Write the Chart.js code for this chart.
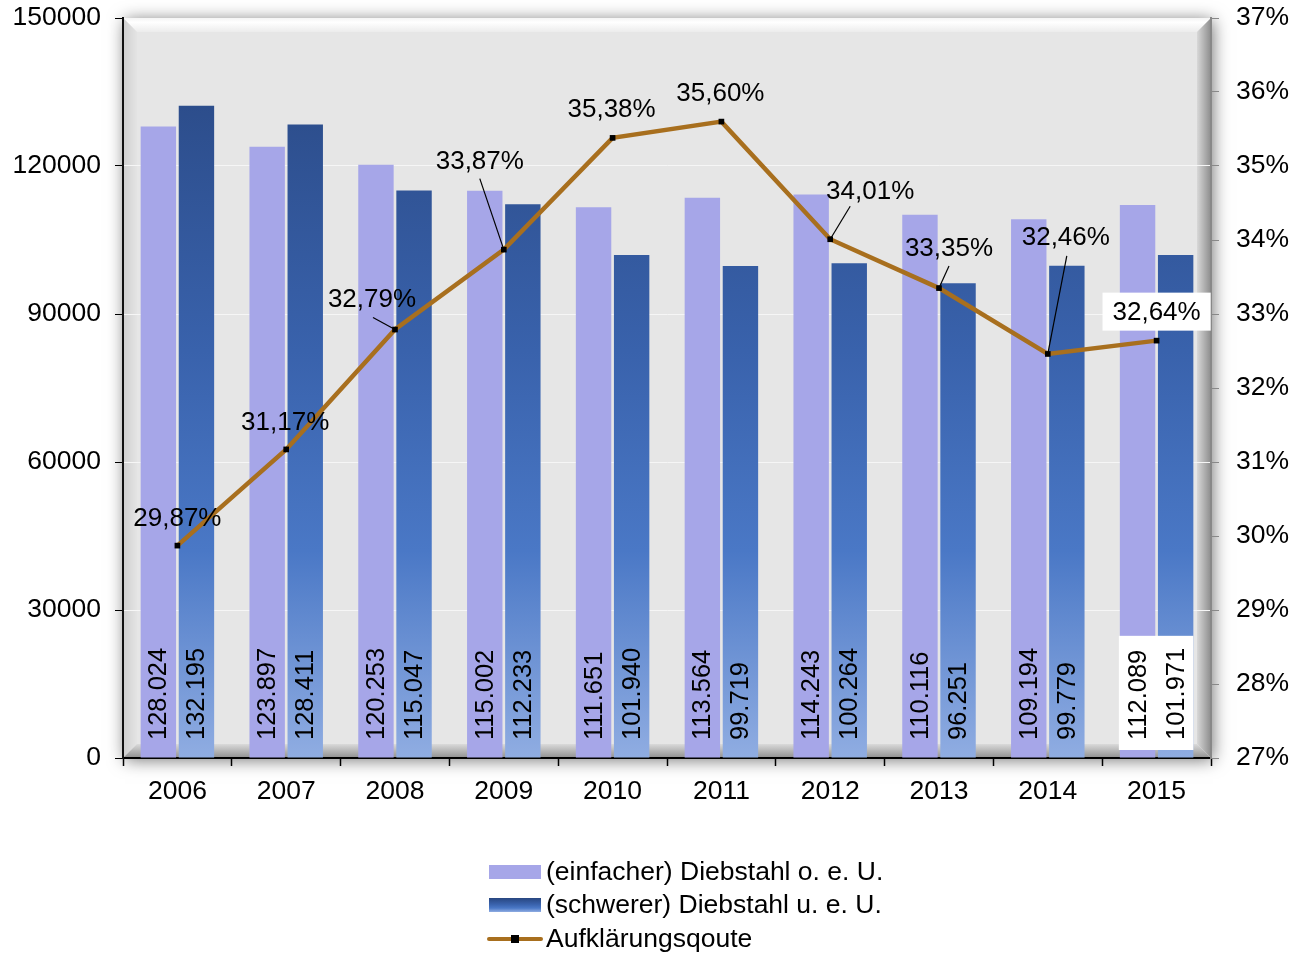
<!DOCTYPE html>
<html>
<head>
<meta charset="utf-8">
<script src="https://cdn.jsdelivr.net/npm/chart.js@4.4.1/dist/chart.umd.min.js"></script>
<style>
  body { margin: 0; background: #fff; }
  #wrap { width: 1304px; height: 954px; }
</style>
</head>
<body>
<div id="wrap"><canvas id="diebstahlChart" width="1304" height="954"></canvas></div>
<script>
var years = ['2006', '2007', '2008', '2009', '2010', '2011', '2012', '2013', '2014', '2015'];
var einfacher = [128024, 123897, 120253, 115002, 111651, 113564, 114243, 110116, 109194, 112089];
var schwerer = [132195, 128411, 115047, 112233, 101940, 99719, 100264, 96251, 99779, 101971];
var quote = [29.87, 31.17, 32.79, 33.87, 35.38, 35.60, 34.01, 33.35, 32.46, 32.64];

var seriesNames = ['(einfacher) Diebstahl o. e. U.', '(schwerer) Diebstahl u. e. U.', 'Aufklärungsqoute'];

// text offsets of the line labels relative to their point, and leader start (null = none)
var labelOffsets = [
    { dx: 0, dy: -28, lead: null },
    { dx: -1, dy: -28, lead: null },
    { dx: -23, dy: -31, lead: [1, 19] },
    { dx: -24, dy: -89, lead: [0, 18] },
    { dx: -1, dy: -29, lead: null },
    { dx: -1, dy: -29, lead: null },
    { dx: 40, dy: -48, lead: [-20, 15] },
    { dx: 10, dy: -40, lead: [0, 18] },
    { dx: 18, dy: -117, lead: [1, 19] },
    { dx: 0, dy: -29, lead: null, box: true }
];

var FONT = '"Liberation Sans", Arial, sans-serif';
var lightBlue = '#a6a6e8';
var lineBrown = '#a86f1e';

Chart.defaults.font.family = FONT;
Chart.defaults.font.size = 26.5;
Chart.defaults.color = '#000';

function blueGradient(ctx, top, bottom) {
    var g = ctx.createLinearGradient(0, top, 0, bottom);
    g.addColorStop(0, '#284680');
    g.addColorStop(0.45, '#3962ac');
    g.addColorStop(0.72, '#4a78c6');
    g.addColorStop(1, '#90ade2');
    return g;
}

function fmtThousand(v) {
    return String(v).replace(/\B(?=(\d{3})+(?!\d))/g, '.');
}

function fmtPct(v) {
    return v.toFixed(2).replace('.', ',') + '%';
}

// plot area with bevelled frame and shadow
var framePlugin = {
    id: 'frame',
    beforeDraw: function (chart) {
        var ctx = chart.ctx, a = chart.chartArea;
        var L = a.left, T = a.top, R = a.right, B = a.bottom, b = 14;
        ctx.save();
        ctx.shadowColor = 'rgba(0,0,0,0.55)';
        ctx.shadowBlur = 16;
        ctx.shadowOffsetX = 2;
        ctx.shadowOffsetY = 2;
        ctx.fillStyle = '#e6e6e6';
        ctx.fillRect(L, T, R - L, B - T);
        ctx.restore();

        ctx.save();
        var g;
        // top
        g = ctx.createLinearGradient(0, T, 0, T + b);
        g.addColorStop(0, '#f4f4f4');
        g.addColorStop(0.3, '#ffffff');
        g.addColorStop(1, '#ececec');
        ctx.fillStyle = g;
        ctx.beginPath();
        ctx.moveTo(L, T); ctx.lineTo(R, T); ctx.lineTo(R - b, T + b); ctx.lineTo(L + b, T + b);
        ctx.closePath(); ctx.fill();
        // left
        g = ctx.createLinearGradient(L, 0, L + b, 0);
        g.addColorStop(0, '#cfcfcf');
        g.addColorStop(1, '#e4e4e4');
        ctx.fillStyle = g;
        ctx.beginPath();
        ctx.moveTo(L, T); ctx.lineTo(L + b, T + b); ctx.lineTo(L + b, B - b); ctx.lineTo(L, B);
        ctx.closePath(); ctx.fill();
        // right
        g = ctx.createLinearGradient(R - b, 0, R, 0);
        g.addColorStop(0, '#d8d8d8');
        g.addColorStop(1, '#8c8c8c');
        ctx.fillStyle = g;
        ctx.beginPath();
        ctx.moveTo(R, T); ctx.lineTo(R, B); ctx.lineTo(R - b, B - b); ctx.lineTo(R - b, T + b);
        ctx.closePath(); ctx.fill();
        // bottom
        g = ctx.createLinearGradient(0, B - b, 0, B);
        g.addColorStop(0, '#dadada');
        g.addColorStop(1, '#909090');
        ctx.fillStyle = g;
        ctx.beginPath();
        ctx.moveTo(L, B); ctx.lineTo(R, B); ctx.lineTo(R - b, B - b); ctx.lineTo(L + b, B - b);
        ctx.closePath(); ctx.fill();
        ctx.restore();
    }
};

// rotated value labels in the bars + percentage labels on the line
var labelPlugin = {
    id: 'labels',
    afterDatasetsDraw: function (chart) {
        var ctx = chart.ctx;
        var m0 = chart.getDatasetMeta(0), m1 = chart.getDatasetMeta(1), m2 = chart.getDatasetMeta(2);
        var baseY = chart.chartArea.bottom - 18;
        ctx.save();
        ctx.font = '25.5px ' + FONT;
        for (var i = 0; i < years.length; i++) {
            var t0 = fmtThousand(einfacher[i]), t1 = fmtThousand(schwerer[i]);
            if (i === years.length - 1) {
                var w = Math.max(ctx.measureText(t0).width, ctx.measureText(t1).width);
                var b0 = m0.data[i], b1 = m1.data[i];
                var x0 = b0.x - b0.width / 2 - 1, x1 = b1.x + b1.width / 2;
                ctx.fillStyle = '#fff';
                ctx.fillRect(x0, baseY - w - 12, x1 - x0, w + 22);
            }
            ctx.fillStyle = '#000';
            [[m0.data[i].x, t0], [m1.data[i].x, t1]].forEach(function (p) {
                ctx.save();
                ctx.translate(p[0], baseY);
                ctx.rotate(-Math.PI / 2);
                ctx.textAlign = 'left';
                ctx.textBaseline = 'middle';
                ctx.fillText(p[1], 0, 1);
                ctx.restore();
            });
        }

        ctx.font = '26px ' + FONT;
        ctx.textAlign = 'center';
        ctx.textBaseline = 'middle';
        for (var j = 0; j < quote.length; j++) {
            var pt = m2.data[j], o = labelOffsets[j];
            var tx = pt.x + o.dx, ty = pt.y + o.dy;
            var txt = fmtPct(quote[j]);
            if (o.box) {
                var tw = ctx.measureText(txt).width;
                ctx.fillStyle = '#fff';
                ctx.fillRect(tx - tw / 2 - 10, ty - 19, tw + 20, 38);
            }
            if (o.lead) {
                ctx.strokeStyle = '#000';
                ctx.lineWidth = 1.2;
                ctx.beginPath();
                ctx.moveTo(tx + o.lead[0], ty + o.lead[1]);
                ctx.lineTo(pt.x, pt.y);
                ctx.stroke();
            }
            ctx.fillStyle = '#000';
            ctx.fillText(txt, tx, ty + 1);
        }
        ctx.restore();
    }
};

// vertical legend under the chart
var legendPlugin = {
    id: 'stackLegend',
    afterDraw: function (chart) {
        var ctx = chart.ctx;
        var sx = 489, sw = 52, tx = 546;
        var rows = [872, 905, 939];
        ctx.save();
        ctx.font = '26.5px ' + FONT;
        ctx.textBaseline = 'middle';
        ctx.textAlign = 'left';
        ctx.fillStyle = lightBlue;
        ctx.fillRect(sx, rows[0] - 7, sw, 14);
        ctx.fillStyle = blueGradient(ctx, rows[1] - 7, rows[1] + 7);
        ctx.fillRect(sx, rows[1] - 7, sw, 14);
        ctx.strokeStyle = lineBrown;
        ctx.lineWidth = 4;
        ctx.lineCap = 'round';
        ctx.beginPath();
        ctx.moveTo(sx, rows[2]);
        ctx.lineTo(sx + sw, rows[2]);
        ctx.stroke();
        ctx.fillStyle = '#000';
        ctx.fillRect(sx + sw / 2 - 4, rows[2] - 4, 8, 8);
        for (var i = 0; i < seriesNames.length; i++) {
            ctx.fillText(seriesNames[i], tx, rows[i] + 1);
        }
        ctx.restore();
    }
};

function fitVertical(width) {
    return function (scale) {
        scale.width = width;
        scale.paddingTop = 0;
        scale.paddingBottom = 0;
    };
}

var config = {
    type: 'bar',
    data: {
        labels: years,
        datasets: [{
            label: seriesNames[0],
            data: einfacher,
            backgroundColor: lightBlue,
            yAxisID: 'y',
            order: 2,
            categoryPercentage: 0.7,
            barPercentage: 0.93
        }, {
            label: seriesNames[1],
            data: schwerer,
            backgroundColor: function (context) {
                var a = context.chart.chartArea;
                if (!a) return '#3f68b4';
                return blueGradient(context.chart.ctx, a.top, a.bottom);
            },
            yAxisID: 'y',
            order: 2,
            categoryPercentage: 0.7,
            barPercentage: 0.93
        }, {
            type: 'line',
            label: seriesNames[2],
            data: quote,
            yAxisID: 'y1',
            borderColor: lineBrown,
            borderWidth: 4.5,
            pointStyle: 'rect',
            pointRadius: 4,
            pointBackgroundColor: '#000',
            pointBorderColor: '#000',
            pointBorderWidth: 0,
            tension: 0,
            order: 1
        }]
    },
    options: {
        responsive: false,
        animation: false,
        layout: { padding: { top: 18, left: 0, right: 0, bottom: 146 } },
        plugins: {
            legend: { display: false },
            tooltip: { enabled: false }
        },
        scales: {
            x: {
                offset: true,
                grid: { offset: true, drawOnChartArea: false, tickLength: 8, tickColor: '#000', tickWidth: 1.5 },
                border: { color: '#000', width: 2 },
                ticks: { padding: 10, maxRotation: 0 },
                afterFit: function (scale) {
                    scale.height = 50;
                    scale.paddingLeft = 0;
                    scale.paddingRight = 0;
                }
            },
            y: {
                position: 'left',
                min: 0,
                max: 150000,
                grid: { color: '#f6f6f6', lineWidth: 1, tickLength: 8, tickColor: '#000', drawTicks: true },
                border: { color: '#111', width: 2 },
                ticks: {
                    stepSize: 30000,
                    padding: 14,
                    callback: function (v) { return String(v); }
                },
                afterFit: fitVertical(123)
            },
            y1: {
                position: 'right',
                min: 27,
                max: 37,
                grid: { drawOnChartArea: false, tickLength: 8, tickColor: '#888' },
                border: { color: '#888', width: 2 },
                ticks: {
                    stepSize: 1,
                    padding: 17,
                    callback: function (v) { return v + '%'; }
                },
                afterFit: fitVertical(93)
            }
        }
    },
    plugins: [framePlugin, labelPlugin, legendPlugin]
};

var diebstahlChart = new Chart(document.getElementById('diebstahlChart'), config);
</script>
</body>
</html>
